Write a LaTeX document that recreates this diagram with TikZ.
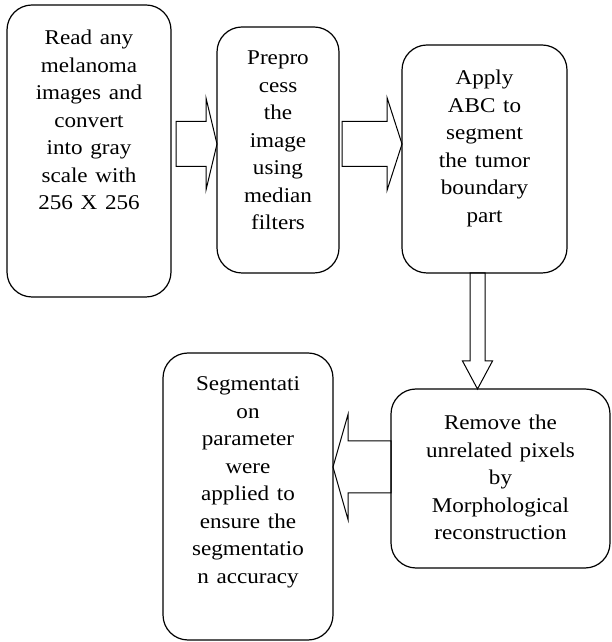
\documentclass[tikz,border=0pt]{standalone}
\usepackage{fontspec}
\setmainfont{Liberation Serif}
\usetikzlibrary{calc}

\tikzset{
  stage/.style={draw, line width=1.2pt, rounded corners=25pt, outer sep=0pt, inner sep=0pt},
  stagetext/.style={anchor=base, align=center, text width=160pt, inner sep=0pt, xscale=1.1,
    font=\fontsize{21}{27.5}\selectfont},
  % block arrow: shaft half width, head half width, head length
  blockarr/.style n args={3}{line width=1pt, line join=miter, to path={
      ($(\tikztostart)!#1!90:(\tikztotarget)$)
      -- ($(\tikztotarget)!#3!(\tikztostart)!#1!90:(\tikztotarget)$)
      -- ($(\tikztotarget)!#3!(\tikztostart)!#2!90:(\tikztotarget)$)
      -- (\tikztotarget)
      -- ($(\tikztotarget)!#3!(\tikztostart)!#2!-90:(\tikztotarget)$)
      -- ($(\tikztotarget)!#3!(\tikztostart)!#1!-90:(\tikztotarget)$)
      -- ($(\tikztostart)!#1!-90:(\tikztotarget)$) -- cycle}}
}

\begin{document}
\begin{tikzpicture}[x=1pt, y=1pt]
\useasboundingbox (0,0) rectangle (611,642);

% ── TOP ROW ──────────────────────────────────────────────────────
\node[stage, minimum width=164pt, minimum height=292pt] (read) at (89, 491) {};
\node[stage, minimum width=122pt, minimum height=246pt] (prep) at (278, 492) {};
\node[stage, minimum width=165pt, minimum height=228pt] (abc)  at (484.5, 483) {};

\node[stagetext] (readtxt) at ($(read.north)+(0,-40)$)
    {Read any\\melanoma\\images and\\convert\\into gray\\scale with\\256 X 256};
\node[stagetext] (preptxt) at ($(prep.north)+(0,-38)$)
    {Prepro\\cess\\the\\image\\using\\median\\filters};
\node[stagetext] (abctxt) at ($(abc.north)+(0,-40)$)
    {Apply\\ABC to\\segment\\the tumor\\boundary\\part};

% ── BOTTOM ROW ───────────────────────────────────────────────────
\node[stage, minimum width=219pt, minimum height=179pt] (remove) at (500.5, 163.5) {};
\node[stage, minimum width=170pt, minimum height=287pt] (seg)    at (248, 145.5) {};

\node[stagetext] (removetxt) at ($(remove.north)+(0,-41)$)
    {Remove the\\unrelated pixels\\by\\Morphological\\reconstruction};
\node[stagetext] (segtxt) at ($(seg.north)+(0,-38)$)
    {Segmentati\\on\\parameter\\were\\applied to\\ensure the\\segmentatio\\n accuracy};

% Block arrows
\draw[blockarr={22.5pt}{46pt}{11pt}]
    ([shift={(5pt,7pt)}]read.east) to ([yshift=6pt]prep.west);
\draw[blockarr={22.5pt}{46.5pt}{15pt}]
    ([shift={(3pt,6pt)}]prep.east) to ([yshift=15pt]abc.west);
\draw[blockarr={7.5pt}{15pt}{28pt}]
    ([xshift=-7pt]abc.south) to ([xshift=-23pt]remove.north);
\draw[blockarr={26pt}{52.5pt}{15pt}]
    ([yshift=11.5pt]remove.west) to ([yshift=29.5pt]seg.east);

\end{tikzpicture}
\end{document}
